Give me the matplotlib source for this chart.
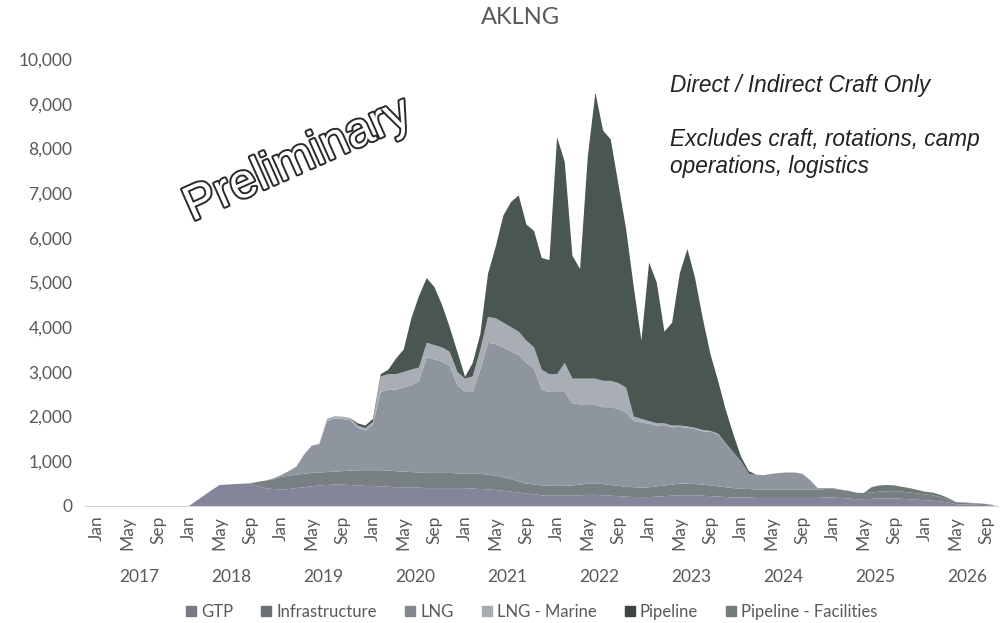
import numpy as np
import pandas as pd
import matplotlib
matplotlib.use("Agg")
import matplotlib.pyplot as plt
import matplotlib.patheffects as pe
from matplotlib.lines import Line2D
from matplotlib.ticker import FuncFormatter
from matplotlib.transforms import blended_transform_factory

# monthly categories Jan 2017 .. Oct 2026
months = pd.date_range("2017-01-01", "2026-10-01", freq="MS")

series_names = ["GTP", "Infrastructure", "LNG", "LNG - Marine", "Pipeline", "Pipeline - Facilities"]

gtp = [0, 0, 0, 0, 0, 0, 0, 0, 0, 0, 0, 0,
       0, 120, 240, 360, 470, 480, 490, 500, 500, 450, 400, 380,
       370, 380, 400, 420, 440, 460, 470, 480, 480, 470, 460, 450,
       450, 440, 430, 420, 420, 420, 410, 400, 400, 400, 400, 400,
       400, 390, 380, 370, 360, 340, 320, 300, 280, 260, 240, 230,
       230, 230, 230, 240, 250, 250, 240, 230, 220, 210, 200, 200,
       200, 210, 220, 230, 240, 240, 240, 230, 220, 210, 200, 190,
       190, 190, 180, 180, 180, 180, 180, 180, 180, 180, 180, 190,
       190, 180, 170, 150, 150, 160, 170, 170, 170, 160, 150, 140,
       130, 120, 100, 80, 40, 35, 30, 25, 20, 10]

infrastructure = [0, 0, 0, 0, 0, 0, 0, 0, 0, 0, 0, 0,
                  0, 0, 0, 0, 0, 0, 0, 0, 10, 90, 170, 220,
                  280, 300, 300, 300, 300, 290, 290, 290, 300, 320, 340, 350,
                  350, 360, 360, 360, 350, 340, 340, 340, 340, 340, 340, 330,
                  320, 330, 340, 330, 320, 300, 280, 250, 220, 220, 220, 220,
                  220, 220, 230, 240, 250, 250, 250, 240, 230, 220, 220, 210,
                  220, 230, 240, 250, 260, 260, 250, 250, 240, 230, 220, 210,
                  200, 190, 190, 190, 190, 190, 190, 190, 190, 190, 190, 190,
                  190, 180, 170, 150, 140, 140, 150, 160, 160, 160, 150, 140,
                  130, 120, 100, 70, 40, 35, 30, 25, 20, 5]

lng = [0, 0, 0, 0, 0, 0, 0, 0, 0, 0, 0, 0,
       0, 0, 0, 0, 0, 0, 0, 0, 0, 0, 0, 20,
       40, 100, 180, 430, 610, 630, 1140, 1190, 1170, 1130, 950, 890,
       1030, 1750, 1810, 1820, 1880, 1940, 2050, 2590, 2540, 2490, 2390, 1970,
       1830, 1830, 2330, 2950, 2940, 2900, 2860, 2830, 2700, 2590, 2140, 2100,
       2100, 2100, 1840, 1790, 1760, 1760, 1720, 1740, 1720, 1670, 1480, 1460,
       1420, 1360, 1350, 1280, 1270, 1250, 1230, 1190, 1200, 1160, 970, 800,
       610, 340, 330, 320, 350, 370, 380, 380, 350, 210, 30, 20,
       20, 10, 0, 0, 0, 0, 0, 0, 0, 0, 0, 0,
       0, 0, 0, 0, 0, 0, 0, 0, 0, 0]

lng_marine = [0, 0, 0, 0, 0, 0, 0, 0, 0, 0, 0, 0,
              0, 0, 0, 0, 0, 0, 0, 0, 0, 0, 0, 0,
              0, 0, 0, 0, 0, 20, 50, 50, 50, 50, 50, 50,
              50, 350, 350, 350, 350, 350, 300, 320, 320, 320, 320, 300,
              300, 350, 450, 580, 580, 560, 540, 520, 500, 480, 450, 400,
              400, 650, 550, 580, 590, 590, 590, 590, 580, 550, 100, 80,
              60, 50, 40, 40, 30, 30, 30, 30, 20, 20, 10, 0,
              0, 0, 0, 0, 0, 0, 0, 0, 0, 0, 0, 0,
              0, 0, 0, 0, 0, 0, 0, 0, 0, 0, 0, 0,
              0, 0, 0, 0, 0, 0, 0, 0, 0, 0]

pipeline = [0, 0, 0, 0, 0, 0, 0, 0, 0, 0, 0, 0,
            0, 0, 0, 0, 0, 0, 0, 0, 0, 0, 0, 0,
            0, 0, 0, 0, 0, 0, 0, 0, 0, 0, 50, 60,
            70, 50, 100, 350, 500, 1150, 1600, 1450, 1300, 950, 550, 450,
            40, 300, 350, 970, 1600, 2400, 2800, 3050, 2600, 2600, 2500, 2550,
            5300, 4500, 2750, 2450, 4950, 6400, 5600, 5400, 4450, 3550, 2900, 1750,
            3550, 3150, 2050, 2300, 3400, 3970, 3350, 2500, 1720, 1180, 750, 400,
            100, 60, 0, 0, 0, 0, 0, 0, 0, 0, 0, 0,
            0, 0, 0, 0, 0, 0, 0, 0, 0, 0, 0, 0,
            0, 0, 0, 0, 0, 0, 0, 0, 0, 0]

pipeline_facilities = [0, 0, 0, 0, 0, 0, 0, 0, 0, 0, 0, 0,
                       0, 0, 0, 0, 0, 0, 0, 0, 0, 0, 0, 0,
                       0, 0, 0, 0, 0, 0, 0, 0, 0, 0, 0, 0,
                       0, 0, 0, 0, 0, 0, 0, 0, 0, 0, 0, 0,
                       0, 0, 0, 0, 0, 0, 0, 0, 0, 0, 0, 0,
                       0, 0, 0, 0, 0, 0, 0, 0, 0, 0, 0, 0,
                       0, 0, 0, 0, 0, 0, 0, 0, 0, 0, 0, 0,
                       0, 0, 0, 0, 0, 0, 0, 0, 0, 0, 0, 0,
                       0, 0, 0, 0, 0, 120, 140, 140, 130, 110, 100, 80,
                       60, 60, 50, 30, 10, 10, 10, 10, 5, 5]

area_colors = ["#84849a", "#788084", "#8e959e", "#a9aeb4", "#4a5652", "#6e7a76"]
legend_colors = ["#7a7a84", "#6d7075", "#84898f", "#a8abaf", "#3e4644", "#737b7b"]

years = list(range(2017, 2027))

txt = "#595959"
plt.rcParams["font.family"] = ["Lato", "DejaVu Sans"]

fig = plt.figure(figsize=(10.04, 6.23), dpi=100)
ax = fig.add_axes([85 / 1004, 1 - 506 / 623, (998 - 85) / 1004, (506 - 59) / 623])

x = np.arange(len(months))
ax.stackplot(x, gtp, infrastructure, lng, lng_marine, pipeline, pipeline_facilities,
             colors=area_colors, linewidth=0)

ax.set_xlim(-1.56, 117.5)
ax.set_ylim(0, 10000)
ax.set_yticks(range(0, 10001, 1000))
ax.yaxis.set_major_formatter(FuncFormatter(lambda v, p: f"{int(v):,}"))

tick_pos = x[::4]
ax.set_xticks(tick_pos)
ax.set_xticklabels([months[i].strftime("%b") for i in tick_pos], rotation=90)
ax.tick_params(axis="both", length=0, labelcolor=txt, labelsize=12.5)
ax.tick_params(axis="x", pad=7)
ax.tick_params(axis="y", pad=9)

for s in ["top", "right", "left"]:
    ax.spines[s].set_visible(False)
ax.spines["bottom"].set_color("#d4d4d4")

# year labels under the month ticks
trans = blended_transform_factory(ax.transData, ax.transAxes)
for k, yr in enumerate(years):
    ax.text(k * 12 + 5.5, -0.159, str(yr), transform=trans, ha="center", va="center",
            fontsize=12.5, color=txt)

fig.text(520 / 1004, 1 - 18 / 623, "AKLNG", ha="center", va="center", fontsize=17, color=txt)

fig.text(670 / 1004, 1 - 74 / 623, "Direct / Indirect Craft Only", ha="left", va="top",
         fontsize=16.3, style="italic", family="Liberation Sans", color="#222222")
fig.text(670 / 1004, 1 - 128 / 623, "Excludes craft, rotations, camp\noperations, logistics",
         ha="left", va="top", fontsize=16.3, style="italic", family="Liberation Sans",
         color="#222222", linespacing=1.25)

fig.text(303 / 1004, 1 - 172 / 623, "Preliminary", ha="center", va="baseline",
         rotation=24, rotation_mode="anchor", fontsize=35, family="Liberation Sans",
         color="white",
         path_effects=[pe.Stroke(linewidth=2.8, foreground="#2a2a2a"), pe.Normal()])

handles = [Line2D([0], [0], marker="s", linestyle="none", markersize=7,
                  markerfacecolor=c, markeredgecolor=c) for c in legend_colors]
fig.legend(handles, series_names, loc="center", bbox_to_anchor=(531 / 1004, 1 - 612 / 623),
           ncol=6, frameon=False, fontsize=12, handletextpad=0.2, columnspacing=1.6,
           handlelength=0.8, labelcolor=txt)

fig.savefig("out.png", dpi=100)
